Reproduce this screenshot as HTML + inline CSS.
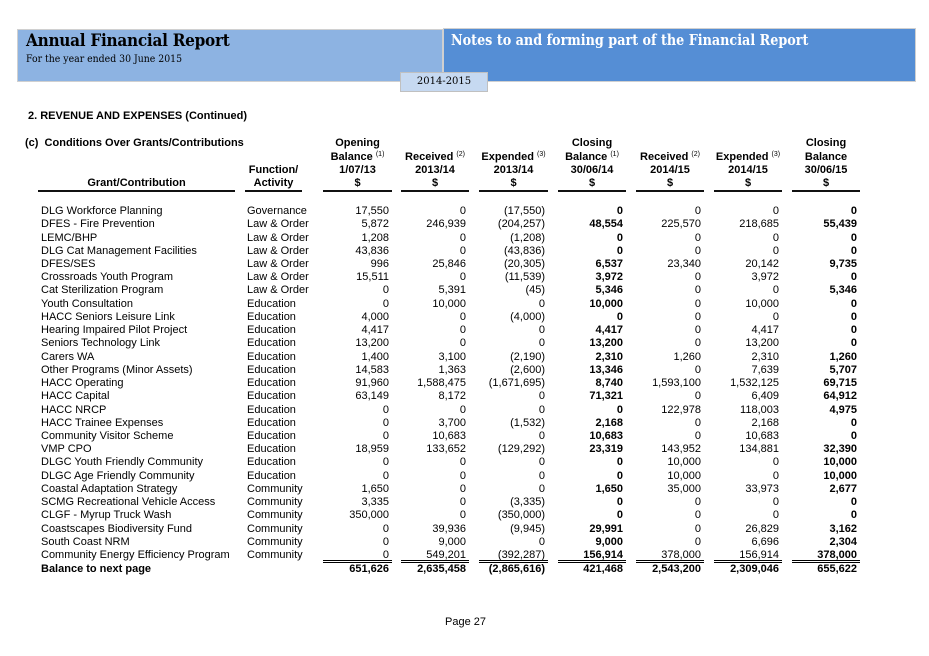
<!DOCTYPE html>
<html><head><meta charset="utf-8"><style>
body{margin:0;width:929px;height:656px;background:#fff;position:relative;overflow:hidden;font-family:"Liberation Sans",Arial,sans-serif;font-size:11px;color:#000}
.a{position:absolute}
.r{position:absolute;left:0;width:929px;height:14px;line-height:14px;white-space:nowrap}
.r span{position:absolute;top:0}
.g{left:41px}.f{left:247px}
.c1,.c2,.c3,.c4,.c5,.c6,.c7,.c8{text-align:right}
.c1{left:323px;width:66px}.c2{left:401px;width:65px}.c3{left:479px;width:66px}.c4{left:558px;width:65px;font-weight:bold}
.c5{left:636px;width:65px}.c6{left:714px;width:65px}.c7{left:792px;width:65px;font-weight:bold}
.h span{text-align:center;font-weight:bold}
.h .c1{left:323px;width:69px}.h .c2{left:401px;width:68px}.h .c3{left:479px;width:69px}.h .c4{left:558px;width:68px}
.h .c5{left:636px;width:68px}.h .c6{left:714px;width:68px}.h .c7{left:792px;width:68px}
.h .f{left:245px;width:57px;text-align:center}.h .g{left:38px;width:197px}
sup{font-size:7px;vertical-align:top;position:relative;top:-2px;font-weight:normal}
.ul{position:absolute;height:2px;background:#111;top:190px}
.dl{position:absolute;border-top:1px solid #000;border-bottom:1.5px solid #000;top:560px;height:0.5px}
.b span{font-weight:bold}
.sx{transform-origin:0 0;white-space:nowrap}
</style></head><body>
<div class="a" style="left:17px;top:29px;width:426px;height:53px;background:#8db3e2;border:1px solid #d0d0d0;box-sizing:border-box"></div>
<div class="a" style="left:443px;top:28px;width:473px;height:54px;background:#558ed5;border:1px solid #d0d0d0;box-sizing:border-box"></div>
<div class="a" style="left:400px;top:72px;width:88px;height:20px;background:#c6d9f1;border:1px solid #c0c0c0;box-sizing:border-box;font-family:'DejaVu Serif','Liberation Serif',serif;font-size:10px;line-height:18px;text-align:center">2014-2015</div>
<div class="a sx" style="left:26px;top:31px;font-family:'DejaVu Serif','Liberation Serif',serif;font-weight:bold;font-size:17px;letter-spacing:-0.3px;transform:scaleX(0.9)">Annual Financial Report</div>
<div class="a sx" style="left:26px;top:53px;font-family:'DejaVu Serif','Liberation Serif',serif;font-size:10.5px;transform:scaleX(0.89)">For the year ended 30 June 2015</div>
<div class="a sx" style="left:451px;top:32px;font-family:'DejaVu Serif','Liberation Serif',serif;font-weight:bold;font-size:14.5px;color:#fff;transform:scaleX(0.88)">Notes to and forming part of the Financial Report</div>
<div class="a" style="left:28px;top:110px;font-weight:bold;font-size:11px">2. REVENUE AND EXPENSES (Continued)</div>

<div class="r h" style="top:136px"><span style="left:25px;font-weight:bold;text-align:left">(c)&nbsp; Conditions Over Grants/Contributions</span><span class="c1">Opening</span><span class="c4">Closing</span><span class="c7">Closing</span></div>
<div class="r h" style="top:150px"><span class="c1">Balance <sup>(1)</sup></span><span class="c2">Received <sup>(2)</sup></span><span class="c3">Expended <sup>(3)</sup></span><span class="c4">Balance <sup>(1)</sup></span><span class="c5">Received <sup>(2)</sup></span><span class="c6">Expended <sup>(3)</sup></span><span class="c7">Balance</span></div>
<div class="r h" style="top:163px"><span class="f">Function/</span><span class="c1">1/07/13</span><span class="c2">2013/14</span><span class="c3">2013/14</span><span class="c4">30/06/14</span><span class="c5">2014/15</span><span class="c6">2014/15</span><span class="c7">30/06/15</span></div>
<div class="r h" style="top:176px"><span class="g">Grant/Contribution</span><span class="f">Activity</span><span class="c1">$</span><span class="c2">$</span><span class="c3">$</span><span class="c4">$</span><span class="c5">$</span><span class="c6">$</span><span class="c7">$</span></div>
<div class="ul" style="left:38px;width:197px"></div><div class="ul" style="left:245px;width:57px"></div>
<div class="ul" style="left:323px;width:69px"></div><div class="ul" style="left:401px;width:68px"></div><div class="ul" style="left:479px;width:69px"></div><div class="ul" style="left:558px;width:68px"></div><div class="ul" style="left:636px;width:68px"></div><div class="ul" style="left:714px;width:68px"></div><div class="ul" style="left:792px;width:68px"></div>

<div class="r" style="top:204px"><span class="g">DLG Workforce Planning</span><span class="f">Governance</span><span class="c1">17,550</span><span class="c2">0</span><span class="c3">(17,550)</span><span class="c4">0</span><span class="c5">0</span><span class="c6">0</span><span class="c7">0</span></div>
<div class="r" style="top:217.2px"><span class="g">DFES - Fire Prevention</span><span class="f">Law &amp; Order</span><span class="c1">5,872</span><span class="c2">246,939</span><span class="c3">(204,257)</span><span class="c4">48,554</span><span class="c5">225,570</span><span class="c6">218,685</span><span class="c7">55,439</span></div>
<div class="r" style="top:230.5px"><span class="g">LEMC/BHP</span><span class="f">Law &amp; Order</span><span class="c1">1,208</span><span class="c2">0</span><span class="c3">(1,208)</span><span class="c4">0</span><span class="c5">0</span><span class="c6">0</span><span class="c7">0</span></div>
<div class="r" style="top:243.7px"><span class="g">DLG Cat Management Facilities</span><span class="f">Law &amp; Order</span><span class="c1">43,836</span><span class="c2">0</span><span class="c3">(43,836)</span><span class="c4">0</span><span class="c5">0</span><span class="c6">0</span><span class="c7">0</span></div>
<div class="r" style="top:256.9px"><span class="g">DFES/SES</span><span class="f">Law &amp; Order</span><span class="c1">996</span><span class="c2">25,846</span><span class="c3">(20,305)</span><span class="c4">6,537</span><span class="c5">23,340</span><span class="c6">20,142</span><span class="c7">9,735</span></div>
<div class="r" style="top:270.2px"><span class="g">Crossroads Youth Program</span><span class="f">Law &amp; Order</span><span class="c1">15,511</span><span class="c2">0</span><span class="c3">(11,539)</span><span class="c4">3,972</span><span class="c5">0</span><span class="c6">3,972</span><span class="c7">0</span></div>
<div class="r" style="top:283.4px"><span class="g">Cat Sterilization Program</span><span class="f">Law &amp; Order</span><span class="c1">0</span><span class="c2">5,391</span><span class="c3">(45)</span><span class="c4">5,346</span><span class="c5">0</span><span class="c6">0</span><span class="c7">5,346</span></div>
<div class="r" style="top:296.6px"><span class="g">Youth Consultation</span><span class="f">Education</span><span class="c1">0</span><span class="c2">10,000</span><span class="c3">0</span><span class="c4">10,000</span><span class="c5">0</span><span class="c6">10,000</span><span class="c7">0</span></div>
<div class="r" style="top:309.8px"><span class="g">HACC Seniors Leisure Link</span><span class="f">Education</span><span class="c1">4,000</span><span class="c2">0</span><span class="c3">(4,000)</span><span class="c4">0</span><span class="c5">0</span><span class="c6">0</span><span class="c7">0</span></div>
<div class="r" style="top:323.1px"><span class="g">Hearing Impaired Pilot Project</span><span class="f">Education</span><span class="c1">4,417</span><span class="c2">0</span><span class="c3">0</span><span class="c4">4,417</span><span class="c5">0</span><span class="c6">4,417</span><span class="c7">0</span></div>
<div class="r" style="top:336.3px"><span class="g">Seniors Technology Link</span><span class="f">Education</span><span class="c1">13,200</span><span class="c2">0</span><span class="c3">0</span><span class="c4">13,200</span><span class="c5">0</span><span class="c6">13,200</span><span class="c7">0</span></div>
<div class="r" style="top:349.5px"><span class="g">Carers WA</span><span class="f">Education</span><span class="c1">1,400</span><span class="c2">3,100</span><span class="c3">(2,190)</span><span class="c4">2,310</span><span class="c5">1,260</span><span class="c6">2,310</span><span class="c7">1,260</span></div>
<div class="r" style="top:362.8px"><span class="g">Other Programs (Minor Assets)</span><span class="f">Education</span><span class="c1">14,583</span><span class="c2">1,363</span><span class="c3">(2,600)</span><span class="c4">13,346</span><span class="c5">0</span><span class="c6">7,639</span><span class="c7">5,707</span></div>
<div class="r" style="top:376px"><span class="g">HACC Operating</span><span class="f">Education</span><span class="c1">91,960</span><span class="c2">1,588,475</span><span class="c3">(1,671,695)</span><span class="c4">8,740</span><span class="c5">1,593,100</span><span class="c6">1,532,125</span><span class="c7">69,715</span></div>
<div class="r" style="top:389.2px"><span class="g">HACC Capital</span><span class="f">Education</span><span class="c1">63,149</span><span class="c2">8,172</span><span class="c3">0</span><span class="c4">71,321</span><span class="c5">0</span><span class="c6">6,409</span><span class="c7">64,912</span></div>
<div class="r" style="top:402.5px"><span class="g">HACC NRCP</span><span class="f">Education</span><span class="c1">0</span><span class="c2">0</span><span class="c3">0</span><span class="c4">0</span><span class="c5">122,978</span><span class="c6">118,003</span><span class="c7">4,975</span></div>
<div class="r" style="top:415.7px"><span class="g">HACC Trainee Expenses</span><span class="f">Education</span><span class="c1">0</span><span class="c2">3,700</span><span class="c3">(1,532)</span><span class="c4">2,168</span><span class="c5">0</span><span class="c6">2,168</span><span class="c7">0</span></div>
<div class="r" style="top:428.9px"><span class="g">Community Visitor Scheme</span><span class="f">Education</span><span class="c1">0</span><span class="c2">10,683</span><span class="c3">0</span><span class="c4">10,683</span><span class="c5">0</span><span class="c6">10,683</span><span class="c7">0</span></div>
<div class="r" style="top:442.1px"><span class="g">VMP CPO</span><span class="f">Education</span><span class="c1">18,959</span><span class="c2">133,652</span><span class="c3">(129,292)</span><span class="c4">23,319</span><span class="c5">143,952</span><span class="c6">134,881</span><span class="c7">32,390</span></div>
<div class="r" style="top:455.4px"><span class="g">DLGC Youth Friendly Community</span><span class="f">Education</span><span class="c1">0</span><span class="c2">0</span><span class="c3">0</span><span class="c4">0</span><span class="c5">10,000</span><span class="c6">0</span><span class="c7">10,000</span></div>
<div class="r" style="top:468.6px"><span class="g">DLGC Age Friendly Community</span><span class="f">Education</span><span class="c1">0</span><span class="c2">0</span><span class="c3">0</span><span class="c4">0</span><span class="c5">10,000</span><span class="c6">0</span><span class="c7">10,000</span></div>
<div class="r" style="top:481.8px"><span class="g">Coastal Adaptation Strategy</span><span class="f">Community</span><span class="c1">1,650</span><span class="c2">0</span><span class="c3">0</span><span class="c4">1,650</span><span class="c5">35,000</span><span class="c6">33,973</span><span class="c7">2,677</span></div>
<div class="r" style="top:495.1px"><span class="g">SCMG Recreational Vehicle Access</span><span class="f">Community</span><span class="c1">3,335</span><span class="c2">0</span><span class="c3">(3,335)</span><span class="c4">0</span><span class="c5">0</span><span class="c6">0</span><span class="c7">0</span></div>
<div class="r" style="top:508.3px"><span class="g">CLGF - Myrup Truck Wash</span><span class="f">Community</span><span class="c1">350,000</span><span class="c2">0</span><span class="c3">(350,000)</span><span class="c4">0</span><span class="c5">0</span><span class="c6">0</span><span class="c7">0</span></div>
<div class="r" style="top:521.5px"><span class="g">Coastscapes Biodiversity Fund</span><span class="f">Community</span><span class="c1">0</span><span class="c2">39,936</span><span class="c3">(9,945)</span><span class="c4">29,991</span><span class="c5">0</span><span class="c6">26,829</span><span class="c7">3,162</span></div>
<div class="r" style="top:534.8px"><span class="g">South Coast NRM</span><span class="f">Community</span><span class="c1">0</span><span class="c2">9,000</span><span class="c3">0</span><span class="c4">9,000</span><span class="c5">0</span><span class="c6">6,696</span><span class="c7">2,304</span></div>
<div class="r" style="top:547.5px"><span class="g">Community Energy Efficiency Program</span><span class="f">Community</span><span class="c1">0</span><span class="c2">549,201</span><span class="c3">(392,287)</span><span class="c4">156,914</span><span class="c5">378,000</span><span class="c6">156,914</span><span class="c7">378,000</span></div>
<div class="dl" style="left:323px;width:69px"></div><div class="dl" style="left:401px;width:68px"></div><div class="dl" style="left:479px;width:69px"></div><div class="dl" style="left:558px;width:68px"></div><div class="dl" style="left:636px;width:68px"></div><div class="dl" style="left:714px;width:68px"></div><div class="dl" style="left:792px;width:68px"></div>
<div class="r b" style="top:561.5px"><span class="g">Balance to next page</span><span class="c1">651,626</span><span class="c2">2,635,458</span><span class="c3">(2,865,616)</span><span class="c4">421,468</span><span class="c5">2,543,200</span><span class="c6">2,309,046</span><span class="c7">655,622</span></div>
<div class="a" style="left:445px;top:616px">Page 27</div>
</body></html>
